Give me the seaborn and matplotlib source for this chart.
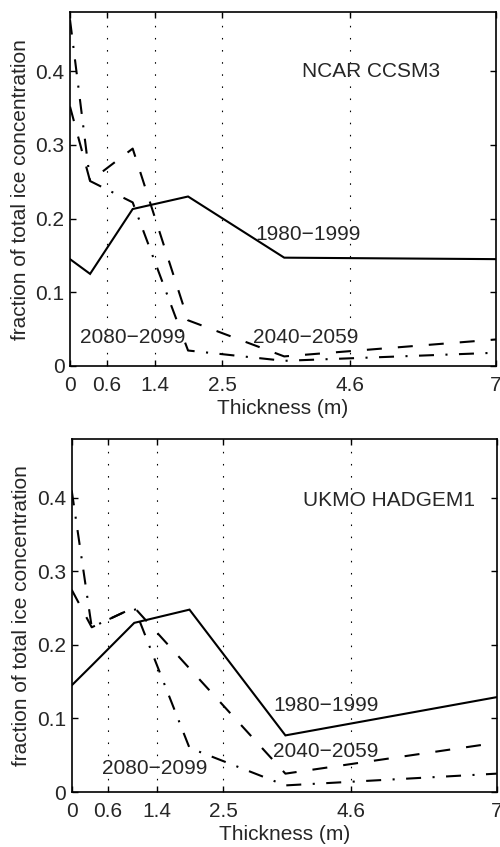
import numpy as np
import pandas as pd
import matplotlib
matplotlib.use("Agg")
import matplotlib.pyplot as plt
import seaborn as sns

# Thickness-category positions (m) and tick marks
thickness = [0.0, 0.33, 1.03, 1.94, 3.52, 7.0]
xticks = [0, 0.6, 1.4, 2.5, 4.6, 7]
xticklabels = ["0", "0.6", "1.4", "2.5", "4.6", "7"]
yticks = [0, 0.1, 0.2, 0.3, 0.4]
yticklabels = ["0", "0.1", "0.2", "0.3", "0.4"]
periods = ["1980\u22121999", "2040\u22122059", "2080\u22122099"]

# NCAR CCSM3: fraction of total ice concentration per thickness category
ncar_1980 = [0.145, 0.125, 0.213, 0.230, 0.147, 0.145]
ncar_2040 = [0.352, 0.251, 0.295, 0.062, 0.013, 0.036]
ncar_2080 = [0.470, 0.251, 0.222, 0.021, 0.007, 0.018]

# UKMO HADGEM1
ukmo_1980 = [0.145, 0.172, 0.230, 0.248, 0.077, 0.129]
ukmo_2040 = [0.275, 0.224, 0.251, 0.168, 0.025, 0.067]
ukmo_2080 = [0.410, 0.224, 0.251, 0.060, 0.009, 0.025]

sns.set_style("ticks")
plt.rcParams["font.family"] = ["Liberation Sans", "DejaVu Sans"]
plt.rcParams["font.size"] = 15
plt.rcParams["axes.linewidth"] = 1.2

LW = 1.5
dash_map = {
    periods[0]: "",
    periods[1]: (7.2, 7.7),
    periods[2]: (7.2, 5.5, 1.0, 5.5),
}


def build_frame(series):
    rows = []
    for name, vals in zip(periods, series):
        for x, y in zip(thickness, vals):
            rows.append({"thickness": x, "fraction": y, "period": name})
    return pd.DataFrame(rows)


def draw_panel(ax, df, title, title_xy, label_xy):
    sns.lineplot(data=df, x="thickness", y="fraction", style="period",
                 style_order=periods, dashes=dash_map, color="black",
                 linewidth=LW, estimator=None, sort=False, legend=False, ax=ax)
    for line in ax.get_lines():
        line.set_dash_capstyle("butt")
        line.set_solid_joinstyle("miter")
    ax.set_xlim(0, 7)
    ax.set_ylim(0, 0.48)
    ax.set_xticks(xticks)
    ax.set_xticklabels(xticklabels)
    ax.set_yticks(yticks)
    ax.set_yticklabels(yticklabels)
    ax.tick_params(direction="in", length=4, width=1.0, top=True, right=True,
                   labelsize=15, color="black")
    ax.tick_params(axis="x", pad=7)
    ax.tick_params(axis="y", pad=4)
    for gx in xticks[1:-1]:
        ax.axvline(gx, color="black", linewidth=0.8,
                   linestyle=(0, (1.4, 9.5)), zorder=0)
    for sp in ax.spines.values():
        sp.set_visible(True)
        sp.set_color("black")
        sp.set_linewidth(1.2)
    ax.set_xlabel("Thickness (m)", fontsize=15, labelpad=3)
    ax.set_ylabel("fraction of total ice concentration", fontsize=15, labelpad=4)
    ax.text(title_xy[0], title_xy[1], title, ha="left", va="center", fontsize=15)
    for name, (tx, ty) in zip(periods, label_xy):
        ax.text(tx, ty, name, ha="left", va="center", fontsize=15)


fig = plt.figure(figsize=(5.0, 8.47), dpi=100)
ax1 = fig.add_axes([0.140, 0.5679, 0.852, 0.4176])
ax2 = fig.add_axes([0.1434, 0.0649, 0.850, 0.4168])

draw_panel(ax1, build_frame([ncar_1980, ncar_2040, ncar_2080]), "NCAR CCSM3",
           (3.81, 0.40), [(3.04, 0.178), (3.0, 0.038), (0.16, 0.038)])
draw_panel(ax2, build_frame([ukmo_1980, ukmo_2040, ukmo_2080]), "UKMO HADGEM1",
           (3.81, 0.397), [(3.32, 0.118), (3.32, 0.055), (0.5, 0.032)])

fig.savefig("out.png", dpi=100)
